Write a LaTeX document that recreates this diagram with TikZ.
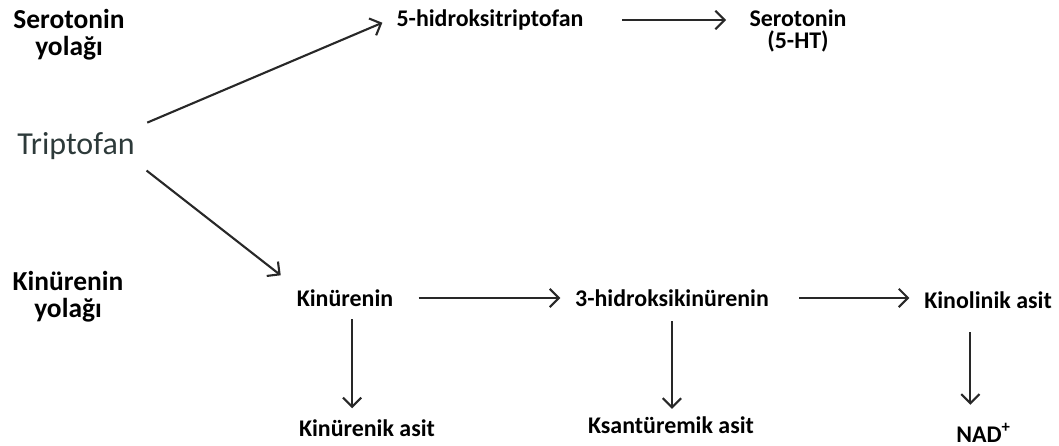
\documentclass[tikz,border=0pt]{standalone}
\usepackage{fontspec}
\setmainfont{Carlito}
\usetikzlibrary{arrows.meta}
\definecolor{trpgray}{RGB}{45,58,58}
\definecolor{arrgray}{RGB}{40,40,40}
\begin{document}
\begin{tikzpicture}[x=0.01cm,y=-0.01cm,
	yollbl/.style={align=center,inner sep=2pt,font=\fontsize{7.8}{7.7}\selectfont\bfseries},
	mol/.style={inner sep=2pt,font=\fontsize{6.8}{6.1}\selectfont\bfseries},
	okarrow/.style={draw=arrgray,line width=0.6pt,-{Straight Barb[length=2.6pt,width=5.2pt]}}]
	\useasboundingbox (0,0) rectangle (1059,446);
	% pathway labels
	\node [yollbl] (serlab) at (69,35) {Serotonin\\yolağı};
	\node [yollbl] (kynlab) at (68,297) {Kinürenin\\yolağı};
	\node [inner sep=2pt,font=\fontsize{9.1}{11}\selectfont,text=trpgray] (trp) at (76,146) {Triptofan};
	% serotonin branch
	\node [mol] (htp) at (490,20) {5-hidroksitriptofan};
	\node [mol,align=center] (sero) at (798,31) {Serotonin\\(5-HT)};
	% kynurenine branch
	\node [mol] (kyn) at (345,298) {Kinürenin};
	\node [mol] (hk) at (672,298) {3-hidroksikinürenin};
	\node [mol] (qa) at (988,300) {Kinolinik asit};
	\node [mol] (kna) at (367,428) {Kinürenik asit};
	\node [mol] (xa) at (671,425) {Ksantüremik asit};
	\node [mol] (nad) at (984,433) {NAD\textsuperscript{+}};
	\draw [okarrow,shorten <=1.5pt,shorten >=2pt] (trp.north east) -- (htp.west);
	\draw [okarrow,shorten <=1.5pt,shorten >=3pt] (trp.south east) -- (kyn.north west);
	\draw [okarrow,shorten <=8.8pt,shorten >=4.5pt] (htp.east) -- (htp.east -| sero.west);
	\draw [okarrow,shorten <=5pt,shorten >=2pt] (kyn.east) -- (kyn.east -| hk.west);
	\draw [okarrow,shorten <=6.5pt,shorten >=2pt] (hk.east) -- (hk.east -| qa.west);
	\draw [okarrow,shorten <=1.5pt,shorten >=1pt] ([xshift=2pt]kyn.south) -- ([xshift=2pt]kyn.south |- kna.north);
	\draw [okarrow,shorten <=2pt] (hk.south) -- (hk.south |- xa.north);
	\draw [okarrow,shorten <=4.5pt,shorten >=3pt] ([xshift=-5pt]qa.south) -- ([xshift=-5pt]qa.south |- nad.north);
\end{tikzpicture}
\end{document}
